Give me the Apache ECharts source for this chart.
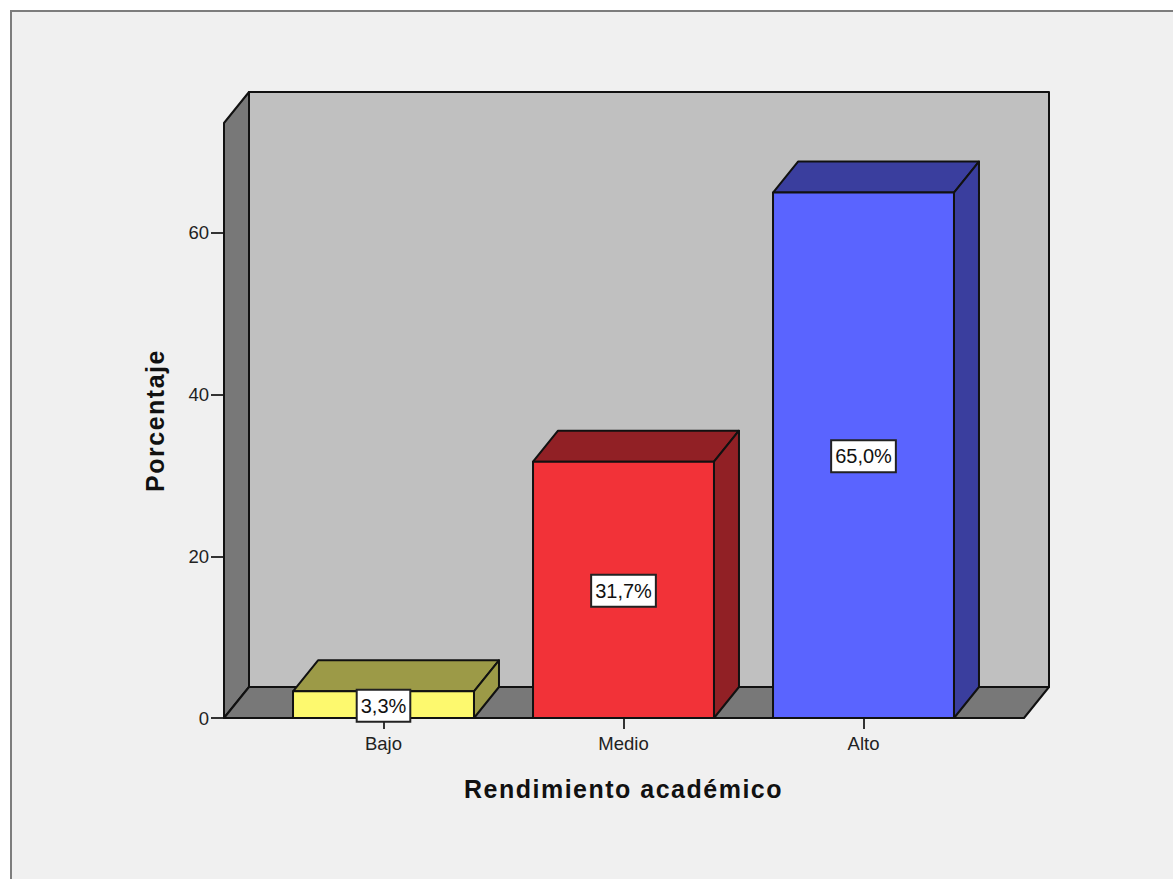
<!DOCTYPE html>
<html>
<head>
<meta charset="utf-8">
<style>html,body{margin:0;padding:0;background:#fff}#c{width:1173px;height:879px}
svg text[style*="25px"]{letter-spacing:1.5px}</style>
<script src="https://cdn.jsdelivr.net/npm/echarts@6/dist/echarts.min.js"></script>
</head>
<body>
<div id="c"></div>
<script>
const categories = ['Bajo', 'Medio', 'Alto'];
const percentages = [3.3, 31.7, 65.0];
const yTicks = [0, 20, 40, 60];
const frontColors = ['#fdf96e', '#f23238', '#5a64ff'];
const shadeColors = ['#9c9a47', '#912025', '#3a3e9e'];

const DX = 25, DY = 31, LINE = '#111', FONT = '"Liberation Sans", Arial, sans-serif';
const EDGE = {stroke: LINE, lineWidth: 2, lineJoin: 'round'};
function poly(points, fill) {
  return {type: 'polygon', shape: {points}, style: Object.assign({fill}, EDGE)};
}
const chart = echarts.init(document.getElementById('c'), null, {renderer: 'svg'});
chart.setOption({
  animation: false,
  backgroundColor: '#ffffff',
  graphic: [{
    type: 'rect', left: 10, top: 10, z: -10,
    shape: {width: 1180, height: 890},
    style: {fill: '#f0f0f0', stroke: '#7d7d7d', lineWidth: 2}
  }],
  grid: {left: 263.5, top: 123, width: 720, height: 595},
  xAxis: {
    type: 'category', data: categories,
    axisLine: {show: false},
    axisTick: {show: true, alignWithLabel: true, length: 11, lineStyle: {color: '#333', width: 2}},
    axisLabel: {color: '#222', fontFamily: FONT, fontSize: 18.5, margin: 16},
    name: 'Rendimiento académico', nameLocation: 'middle', nameGap: 58,
    nameTextStyle: {color: '#111', fontFamily: FONT, fontSize: 25, fontWeight: 'bold'}
  },
  yAxis: {
    type: 'value', min: 0, max: 73.6, interval: 20, offset: 39.5,
    splitLine: {show: false},
    axisLine: {show: false},
    axisTick: {show: true, length: 13, customValues: yTicks, lineStyle: {color: '#333', width: 2}},
    axisLabel: {color: '#222', fontFamily: FONT, fontSize: 18.5, margin: 15, customValues: yTicks},
    name: 'Porcentaje', nameLocation: 'middle', nameGap: 57,
    nameTextStyle: {color: '#111', fontFamily: FONT, fontSize: 25, fontWeight: 'bold'}
  },
  series: [
    {
      type: 'custom', coordinateSystem: 'cartesian2d', z: 1, silent: true,
      data: [[0, 0]],
      renderItem(params) {
        const g = params.coordSys;
        const l = g.x - 39.5, r = g.x + g.width + 40.5, t = g.y, b = g.y + g.height;
        return {type: 'group', children: [
          poly([[l + DX, t - DY], [r + DX, t - DY], [r + DX, b - DY], [l + DX, b - DY]], '#c0c0c0'),
          poly([[l, t], [l + DX, t - DY], [l + DX, b - DY], [l, b]], '#787878'),
          poly([[l, b], [l + DX, b - DY], [r + DX, b - DY], [r, b]], '#787878')
        ]};
      }
    },
    {
      type: 'custom', coordinateSystem: 'cartesian2d', z: 2, silent: true,
      data: percentages.map((v, i) => [i, v]),
      renderItem(params, api) {
        const i = api.value(0), v = api.value(1);
        const top = api.coord([i, v]), base = api.coord([i, 0]);
        const w = api.size([1, 0])[0] * 0.754;
        const l = top[0] - w / 2, r = top[0] + w / 2;
        return {type: 'group', children: [
          poly([[l, top[1]], [l + DX, top[1] - DY], [r + DX, top[1] - DY], [r, top[1]]], shadeColors[i]),
          poly([[r, top[1]], [r + DX, top[1] - DY], [r + DX, base[1] - DY], [r, base[1]]], shadeColors[i]),
          poly([[l, top[1]], [r, top[1]], [r, base[1]], [l, base[1]]], frontColors[i])
        ]};
      }
    },
    {
      type: 'custom', coordinateSystem: 'cartesian2d', z: 3, silent: true,
      data: percentages.map((v, i) => [i, v]),
      renderItem(params, api) {
        const i = api.value(0), v = api.value(1);
        const mid = api.coord([i, v / 2]);
        return {
          type: 'text', x: mid[0], y: mid[1] + 1,
          style: {
            text: v.toFixed(1).replace('.', ',') + '%',
            font: '20px ' + FONT, fill: '#111',
            align: 'center', verticalAlign: 'middle',
            backgroundColor: '#fff', borderColor: '#222', borderWidth: 2,
            padding: [5, 3, 5, 3]
          }
        };
      }
    }
  ]
});
</script>
</body>
</html>
